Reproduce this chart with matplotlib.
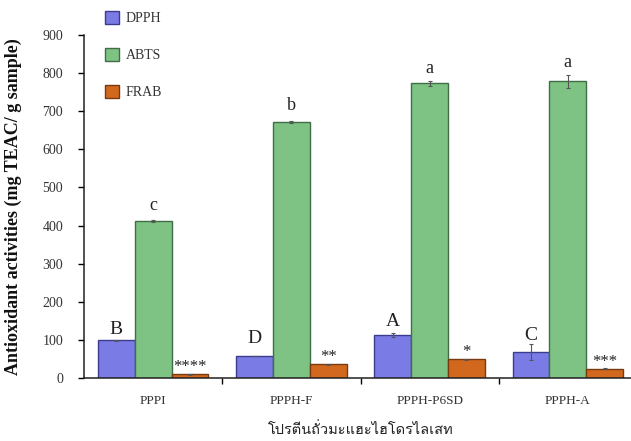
import numpy as np
import matplotlib
matplotlib.use("Agg")
import matplotlib.pyplot as plt
from matplotlib import font_manager
from matplotlib.ft2font import FT2Font

# ---- data -------------------------------------------------------------
categories = ["PPPI", "PPPH-F", "PPPH-P6SD", "PPPH-A"]
series_names = ["DPPH", "ABTS", "FRAB"]

dpph = [99, 58, 113, 68]
abts = [412, 672, 773, 778]
frab = [10, 36, 49, 24]

dpph_err = [2, 1, 6, 22]
abts_err = [3, 2, 6, 16]
frab_err = [1, 2, 1, 1]

dpph_labels = ["B", "D", "A", "C"]
abts_labels = ["c", "b", "a", "a"]
frab_labels = ["****", "**", "*", "***"]

yticks = [0, 100, 200, 300, 400, 500, 600, 700, 800, 900]

colors = ["#7b7be6", "#7ec384", "#d2681e"]
edges = ["#3c3c8c", "#3f6e45", "#7a3a10"]

ylabel = "Antioxidant activities (mg TEAC/ g sample)"
xlabel = "โปรตีนถั่วมะแฮะไฮโดรไลเสท"


def thai_family():
    """Return the name of an installed font that has Thai glyphs."""
    for f in font_manager.fontManager.ttflist:
        try:
            if 0x0E01 in FT2Font(f.fname).get_charmap():
                return f.name
        except Exception:
            continue
    return None


serif = "Liberation Serif"
thai = thai_family()
thai_fams = [thai, serif] if thai else [serif]

plt.rcParams["font.family"] = [serif, "DejaVu Serif"]

W, H = 631, 441
fig = plt.figure(figsize=(W / 100, H / 100), dpi=100)
# axes box in pixel terms: left spine at x=84, baseline at y=378, top at y=35
ax = fig.add_axes([84 / W, (H - 378) / H, (637 - 84) / W, (378 - 35) / H])

x = np.arange(len(categories))
bw = 0.8 / 3
values = [dpph, abts, frab]
errs = [dpph_err, abts_err, frab_err]
labels = [dpph_labels, abts_labels, frab_labels]
label_sizes = [14, 13, 12]
label_pads = [[1, 6, 2, 0], [4, 5, 3, 3], [-1, -1, -1, -1]]

handles = []
for i, (vals, err, lab) in enumerate(zip(values, errs, labels)):
    pos = x + (i - 1) * bw
    b = ax.bar(pos, vals, width=bw, color=colors[i], edgecolor=edges[i],
               linewidth=1.0, yerr=err, capsize=1.5,
               error_kw=dict(ecolor="#555555", elinewidth=0.8, capthick=0.8),
               label=series_names[i], zorder=2)
    handles.append(b)
    for xp, v, e, t, p in zip(pos, vals, err, lab, label_pads[i]):
        ax.annotate(t, (xp, v + e), xytext=(0, p),
                    textcoords="offset points", ha="center", va="bottom",
                    fontsize=label_sizes[i], color="#222222")

ax.set_xlim(-0.5, 3.5)
ax.set_ylim(0, 900)
ax.set_yticks(yticks)
ax.set_xticks(x)
ax.set_xticklabels(categories, fontsize=9.5, color="#333333")
ax.set_xticks([0.5, 1.5, 2.5], minor=True)
ax.tick_params(axis="x", which="major", length=0, pad=12)
ax.tick_params(axis="x", which="minor", length=4, width=1, direction="out")
ax.tick_params(axis="y", length=4, width=1, direction="out", pad=11,
               labelsize=10, labelcolor="#333333")

for s in ("top", "right"):
    ax.spines[s].set_visible(False)
for s in ("left", "bottom"):
    ax.spines[s].set_linewidth(1.1)
    ax.spines[s].set_color("#222222")

ax.set_ylabel(ylabel, fontsize=13, fontweight="bold", color="#111111",
              labelpad=6)
ax.yaxis.set_label_coords(-(84 - 22) / (637 - 84), 0.5)
ax.set_xlabel(xlabel, family=thai_fams, fontsize=10.5, color="#222222",
              labelpad=11)

fig.legend(handles=handles, labels=series_names, loc="upper left",
           bbox_to_anchor=(98 / W, 1 - 4 / H), frameon=False,
           fontsize=10, handlelength=1.0, handleheight=1.05,
           labelspacing=1.65, handletextpad=0.5, borderpad=0,
           labelcolor="#333333")

fig.savefig("out.png", dpi=100)
